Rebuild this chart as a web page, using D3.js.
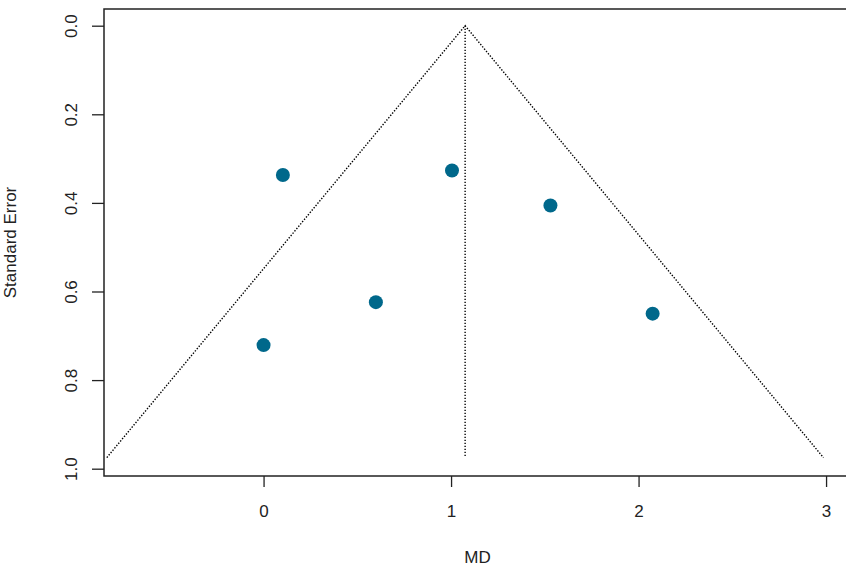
<!DOCTYPE html>
<html>
<head>
<meta charset="utf-8">
<script src="https://cdn.jsdelivr.net/npm/d3@7"></script>
<style>
  body { margin: 0; background: #fff; }
  text { font-family: "Liberation Sans", Arial, sans-serif; fill: #222; }
</style>
</head>
<body>
<div id="chart"></div>
<script>
// study effects (MD) and their standard errors
const md = [0.103, 1.005, 1.530, 0.599, 0.000, 2.075];
const se = [0.337, 0.327, 0.406, 0.624, 0.721, 0.650];
const pooledMD = 1.075;
const seMax = 0.975;
const xTicks = [0, 1, 2, 3];
const yTicks = [0, 0.2, 0.4, 0.6, 0.8, 1.0];

const width = 846, height = 572;
const box = { left: 104, right: 851, top: 9, bottom: 476 };

const svg = d3.select("#chart").append("svg")
    .attr("width", width)
    .attr("height", height);

const x = d3.scaleLinear().domain([-0.851, 3.133]).range([box.left, box.right]);
const y = d3.scaleLinear().domain([-0.0377, 1.0165]).range([box.top, box.bottom]);

// funnel (pooled estimate +/- 1.96 SE)
const funnel = [
    [pooledMD - 1.96 * seMax, seMax],
    [pooledMD, 0],
    [pooledMD + 1.96 * seMax, seMax]
];
svg.append("path")
   .attr("d", d3.line().x(d => x(d[0])).y(d => y(d[1]))(funnel))
   .attr("fill", "none")
   .attr("stroke", "#000")
   .attr("stroke-width", 1.4)
   .attr("stroke-dasharray", "1.4,1.6");

svg.append("line")
   .attr("x1", x(pooledMD)).attr("x2", x(pooledMD))
   .attr("y1", y(0)).attr("y2", y(seMax))
   .attr("stroke", "#000")
   .attr("stroke-width", 1.4)
   .attr("stroke-dasharray", "1.4,1.6");

// studies
svg.selectAll(".pt")
   .data(md.map((d, i) => ({ md: d, se: se[i] })))
   .enter().append("circle")
   .attr("class", "pt")
   .attr("cx", d => x(d.md))
   .attr("cy", d => y(d.se))
   .attr("r", 7)
   .attr("fill", "#00688B");

// axes
const yAxis = svg.append("g")
   .attr("transform", `translate(${box.left},0)`)
   .call(d3.axisLeft(y).tickValues(yTicks).tickFormat(d3.format(".1f")).tickSize(12));
yAxis.select(".domain").remove();
yAxis.selectAll("line").attr("stroke", "#222").attr("stroke-width", 1.3);
yAxis.selectAll("text")
   .attr("x", 0).attr("dy", 0)
   .attr("transform", "translate(-27,0) rotate(-90)")
   .attr("text-anchor", "middle")
   .style("font-size", "17px")
   .style("font-family", "Liberation Sans, Arial, sans-serif")
   .attr("fill", "#222");

const xAxis = svg.append("g")
   .attr("transform", `translate(0,${box.bottom})`)
   .call(d3.axisBottom(x).tickValues(xTicks).tickFormat(d3.format("d")).tickSize(11));
xAxis.select(".domain").remove();
xAxis.selectAll("line").attr("stroke", "#222").attr("stroke-width", 1.3);
xAxis.selectAll("text")
   .attr("y", 41).attr("dy", 0)
   .style("font-size", "17px")
   .style("font-family", "Liberation Sans, Arial, sans-serif")
   .attr("fill", "#222");

// plot frame
svg.append("rect")
   .attr("x", box.left).attr("y", box.top)
   .attr("width", box.right - box.left)
   .attr("height", box.bottom - box.top)
   .attr("fill", "none")
   .attr("stroke", "#222")
   .attr("stroke-width", 1.5);

// axis titles
svg.append("text")
   .attr("transform", `translate(16,${(box.top + box.bottom) / 2}) rotate(-90)`)
   .attr("text-anchor", "middle")
   .style("font-size", "17px")
   .text("Standard Error");

svg.append("text")
   .attr("x", (box.left + box.right) / 2)
   .attr("y", 563)
   .attr("text-anchor", "middle")
   .style("font-size", "17px")
   .text("MD");
</script>
</body>
</html>
